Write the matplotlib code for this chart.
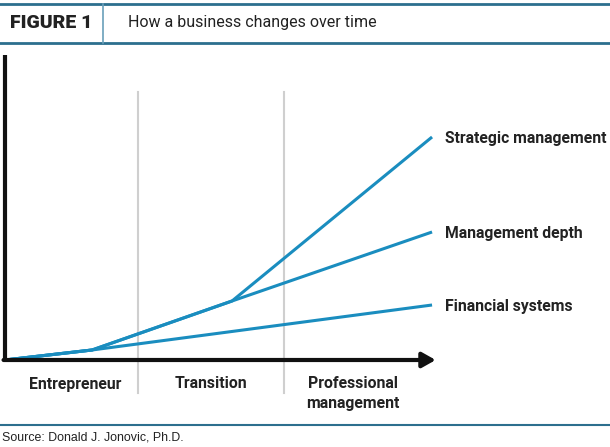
import matplotlib.pyplot as plt
from matplotlib import font_manager

# stage boundaries and series (time units, growth units)
stages = ['Entrepreneur', 'Transition', 'Professional\nmanagement']
stage_centers = [0.48, 1.41, 2.38]
boundaries = [0.911, 1.911]

series = ['Strategic management', 'Management depth', 'Financial systems']
x_pts = {
    'Strategic management': [0.0, 0.596, 1.555, 2.925],
    'Management depth': [0.0, 0.596, 1.555, 2.925],
    'Financial systems': [0.0, 0.596, 2.925],
}
y_pts = {
    'Strategic management': [0.0, 0.10, 0.59, 2.23],
    'Management depth': [0.0, 0.10, 0.59, 1.28],
    'Financial systems': [0.0, 0.10, 0.55],
}

names = {f.name for f in font_manager.fontManager.ttflist}
narrow = 'Liberation Sans Narrow' if 'Liberation Sans Narrow' in names else 'Roboto'

blue = '#1a8dbf'
rule = '#2c6f8e'

fig = plt.figure(figsize=(6.1, 4.47), dpi=100)
ax = fig.add_axes([0, 0, 1, 1])
ax.set_xlim(-5 / 146, 605 / 146)
ax.set_ylim((360 - 447) / 100, 3.60)
ax.axis('off')

# stage separators
for b in boundaries:
    ax.plot([b, b], [-0.33, 2.68], color='#cfcfcf', lw=1.5, zorder=1)

# lines
for s in series:
    ax.plot(x_pts[s], y_pts[s], color=blue, lw=2.2, solid_capstyle='butt', zorder=3)
    ax.text(x_pts[s][-1] + 0.09, y_pts[s][-1] - 0.02, s, fontsize=11.3, family=narrow,
            fontweight='bold', color='#222222', va='center', ha='left')

# axes with arrow
ax.plot([0, 0], [0, 3.05], color='#111111', lw=3, solid_capstyle='butt', zorder=4)
ax.annotate('', xy=(2.95, 0), xytext=(-0.01, 0),
            arrowprops=dict(arrowstyle='-|>,head_length=0.8,head_width=0.45',
                            color='#111111', lw=3, shrinkA=0, shrinkB=0), zorder=4)

for c, lab in zip(stage_centers, stages):
    ax.text(c, -0.165, lab, fontsize=11.3, family=narrow, fontweight='bold',
            color='#222222', ha='center', va='top', linespacing=1.4)

# header
fig.add_artist(plt.Line2D([0, 1], [1 - 4 / 447, 1 - 4 / 447], color=rule, lw=2))
fig.add_artist(plt.Line2D([0, 1], [1 - 43 / 447, 1 - 43 / 447], color=rule, lw=2))
fig.add_artist(plt.Line2D([103 / 610, 103 / 610], [1 - 43 / 447, 1 - 4 / 447], color='#6a9fba', lw=1.2))
fig.text(10 / 610, 1 - 23 / 447, 'FIGURE 1', fontsize=14, fontweight='heavy', family=narrow,
         color='#222222', va='center', ha='left')
fig.text(128 / 610, 1 - 23 / 447, 'How a business changes over time', fontsize=11.5,
         family='Roboto', color='#222222', va='center', ha='left')

# footer
fig.add_artist(plt.Line2D([0, 1], [1 - 425 / 447, 1 - 425 / 447], color=rule, lw=1.5))
fig.text(2 / 610, 1 - 437 / 447, 'Source: Donald J. Jonovic, Ph.D.', fontsize=8.9,
         family='Liberation Sans', color='#222222', va='center', ha='left')

fig.savefig('out.png', dpi=100)
